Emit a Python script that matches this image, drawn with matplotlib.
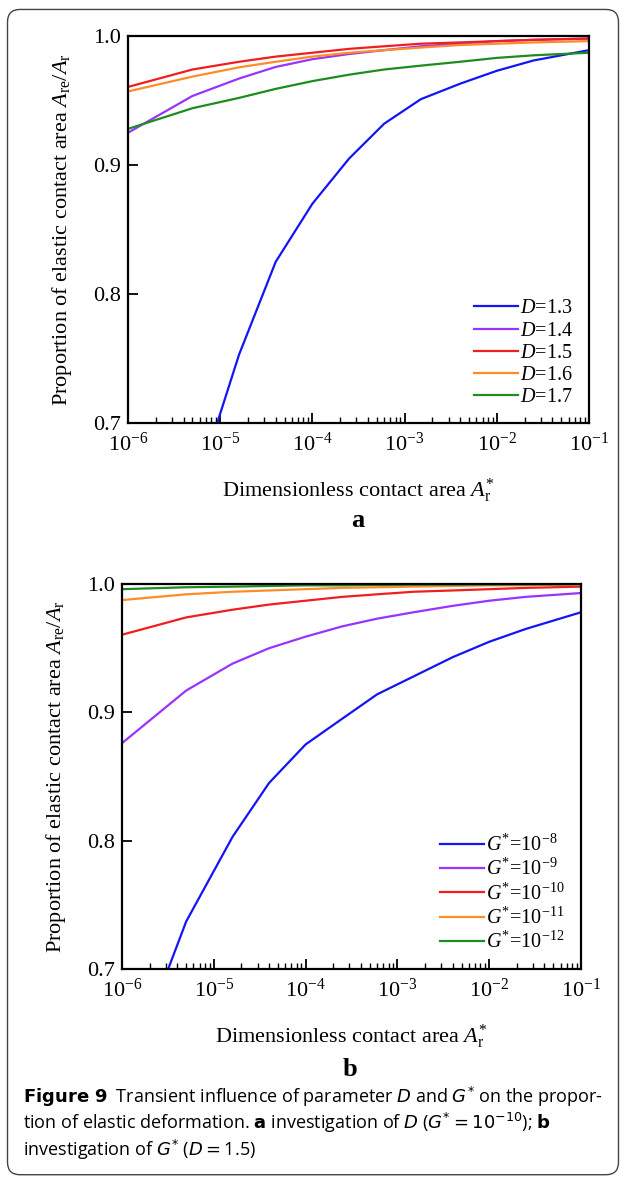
import matplotlib
matplotlib.use("Agg")
import matplotlib.pyplot as plt
from matplotlib.patches import FancyBboxPatch
from matplotlib.ticker import LogLocator, NullFormatter, FixedLocator

plt.rcParams['font.family'] = ['Liberation Serif', 'DejaVu Serif']
plt.rcParams['mathtext.fontset'] = 'custom'
plt.rcParams['mathtext.rm'] = 'Liberation Serif'
plt.rcParams['mathtext.it'] = 'Liberation Serif:italic'
plt.rcParams['mathtext.bf'] = 'Liberation Serif:bold'

# sampled dimensionless contact area
area = [1e-6, 5e-6, 1.6e-5, 4e-5, 1e-4, 2.5e-4, 6e-4, 1.5e-3, 4e-3, 1e-2, 2.5e-2, 1e-1]

# panel a: effect of D (G* = 1e-10)
labels_a = [r'$D$=1.3', r'$D$=1.4', r'$D$=1.5', r'$D$=1.6', r'$D$=1.7']
d13 = [0.600, 0.640, 0.753, 0.825, 0.870, 0.905, 0.932, 0.951, 0.963, 0.973, 0.981, 0.989]
d14 = [0.925, 0.9535, 0.967, 0.976, 0.982, 0.986, 0.989, 0.992, 0.994, 0.996, 0.997, 0.998]
d15 = [0.9605, 0.974, 0.980, 0.984, 0.987, 0.990, 0.992, 0.994, 0.995, 0.996, 0.997, 0.998]
d16 = [0.957, 0.9685, 0.9757, 0.980, 0.984, 0.987, 0.989, 0.991, 0.993, 0.994, 0.995, 0.996]
d17 = [0.928, 0.944, 0.952, 0.959, 0.965, 0.970, 0.974, 0.977, 0.980, 0.983, 0.985, 0.987]

# panel b: effect of G* (D = 1.5)
labels_b = [r'$G^{*}$=10$^{-8}$', r'$G^{*}$=10$^{-9}$', r'$G^{*}$=10$^{-10}$',
            r'$G^{*}$=10$^{-11}$', r'$G^{*}$=10$^{-12}$']
g8 = [0.605, 0.737, 0.803, 0.845, 0.875, 0.895, 0.914, 0.928, 0.943, 0.955, 0.965, 0.978]
g9 = [0.876, 0.917, 0.938, 0.950, 0.959, 0.967, 0.973, 0.978, 0.983, 0.987, 0.990, 0.993]
g10 = [0.9605, 0.974, 0.980, 0.984, 0.987, 0.990, 0.992, 0.994, 0.995, 0.996, 0.997, 0.998]
g11 = [0.9875, 0.992, 0.994, 0.995, 0.996, 0.997, 0.9975, 0.998, 0.9985, 0.999, 0.999, 0.9995]
g12 = [0.996, 0.9975, 0.998, 0.9985, 0.999, 0.999, 0.9993, 0.9995, 0.9996, 0.9997, 0.9998, 0.9999]

colors = ['#1414f5', '#9933ff', '#f01e1e', '#ff8c28', '#1e8c1e']
xticks = [1e-6, 1e-5, 1e-4, 1e-3, 1e-2, 1e-1]
xticklabels = [r'10$^{\mathregular{-%d}}$' % k for k in [6, 5, 4, 3, 2, 1]]
yticks = [0.7, 0.8, 0.9, 1.0]

fig = plt.figure(figsize=(6.26, 11.83), dpi=100)

border = FancyBboxPatch((0.012, 0.007), 0.976, 0.985, boxstyle='round,pad=0,rounding_size=0.02',
                        transform=fig.transFigure, fill=False, edgecolor='#444444', linewidth=1.0,
                        mutation_aspect=626 / 1183)
fig.patches.append(border)

ax_a = fig.add_axes([0.2045, 0.6424, 0.7364, 0.3272])
ax_b = fig.add_axes([0.1949, 0.1809, 0.7332, 0.3254])


def style(ax, series, labels):
    for ys, c, lab in zip(series, colors, labels):
        ax.plot(area, ys, color=c, linewidth=1.6, label=lab)
    ax.set_xscale('log')
    ax.set_xlim(1e-6, 1e-1)
    ax.set_ylim(0.7, 1.0)
    ax.xaxis.set_major_locator(FixedLocator(xticks))
    ax.set_xticklabels(xticklabels)
    ax.xaxis.set_minor_locator(LogLocator(base=10, subs=range(2, 10), numticks=20))
    ax.xaxis.set_minor_formatter(NullFormatter())
    ax.set_yticks(yticks)
    ax.set_yticklabels(['0.7', '0.8', '0.9', '1.0'])
    ax.tick_params(which='major', direction='in', length=7, width=1.3, labelsize=16)
    ax.tick_params(axis='x', which='major', pad=7)
    ax.tick_params(axis='y', which='major', pad=5)
    ax.tick_params(which='minor', direction='in', length=4, width=1.0)
    for s in ax.spines.values():
        s.set_linewidth(1.6)
    ax.set_xlabel(r'Dimensionless contact area $A_{\mathregular{r}}^{*}$', fontsize=16, labelpad=15)
    ax.set_ylabel(r'Proportion of elastic contact area $A_{\mathregular{re}}/A_{\mathregular{r}}$',
                  fontsize=16, labelpad=14)
    ax.legend(loc='lower right', frameon=False, fontsize=14.5, handlelength=2.2,
              handletextpad=0.1, labelspacing=0.15, borderaxespad=0.4)


style(ax_a, [d13, d14, d15, d16, d17], labels_a)
style(ax_b, [g8, g9, g10, g11, g12], labels_b)

fig.text(0.571, 0.560, 'a', fontsize=19, fontweight='bold', ha='center', va='center')
fig.text(0.559, 0.096, 'b', fontsize=19, fontweight='bold', ha='center', va='center')

cap_font = ['Open Sans']
cap_lines = [
    r'$\mathbf{Figure\ 9}$  Transient influence of parameter $D$ and $G^{*}$ on the propor-',
    r'tion of elastic deformation. $\mathbf{a}$ investigation of $D$ ($G^{*}$$=$$10^{-10}$); $\mathbf{b}$',
    r'investigation of $G^{*}$ ($D$$=$1.5)',
]
for i, line in enumerate(cap_lines):
    fig.text(0.036, 0.073 - i * 0.0225, line, fontsize=13, family=cap_font,
             ha='left', va='center', math_fontfamily='dejavusans')

fig.savefig('out.png', dpi=100)
